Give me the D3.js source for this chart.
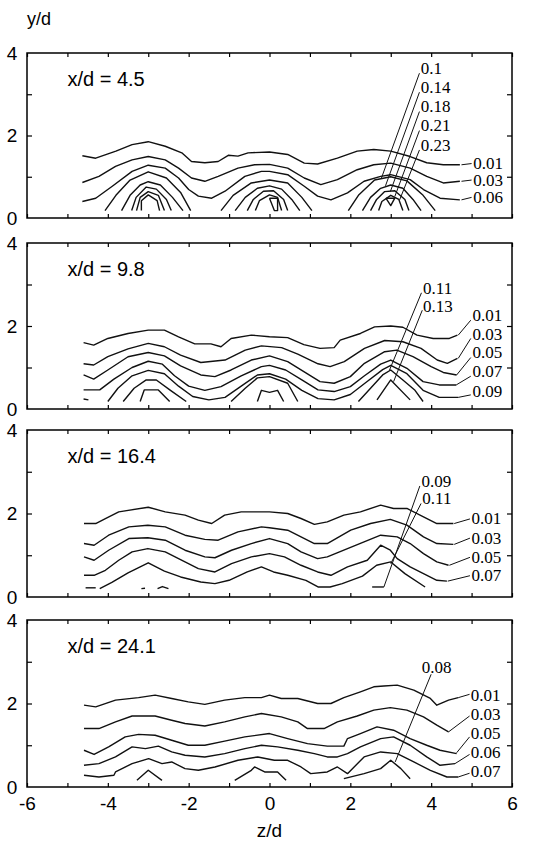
<!DOCTYPE html>
<html>
<head>
<meta charset="utf-8">
<script src="https://cdn.jsdelivr.net/npm/d3@7"></script>
<style>
  body { margin: 0; background: #fff; }
  svg text { fill: #000; }
</style>
</head>
<body>
<svg id="chart" width="534" height="842"></svg>
<script>
// panel titles and axis ticks
const stations = ['x/d = 4.5', 'x/d = 9.8', 'x/d = 16.4', 'x/d = 24.1']
const zTicks = [-6, -4, -2, 0, 2, 4, 6]
const yLabels = [0, 2, 4]

// contour lines, one array of [z/d, y/d] polylines per panel
const p1Contours = [
  // 0.01
  [[-4.63, 1.51], [-4.3, 1.45], [-3.8, 1.62], [-3.4, 1.78], [-3.0, 1.85], [-2.58, 1.74], [-2.17, 1.58], [-1.93, 1.37], [-1.6, 1.34], [-1.27, 1.37], [-1.02, 1.52], [-0.78, 1.5], [-0.53, 1.58], [0, 1.6], [0.45, 1.54], [0.86, 1.33], [1.19, 1.31], [1.68, 1.45], [2.17, 1.62], [2.58, 1.66], [3.0, 1.62], [3.48, 1.49], [3.89, 1.34], [4.3, 1.29], [4.71, 1.29]],
  // 0.03
  [[-4.63, 0.86], [-4.22, 1.01], [-3.81, 1.25], [-3.4, 1.41], [-3.0, 1.49], [-2.58, 1.41], [-2.25, 1.21], [-1.93, 0.97], [-1.6, 0.89], [-1.27, 1.01], [-0.78, 1.21], [-0.37, 1.29], [0, 1.3], [0.45, 1.21], [0.86, 0.97], [1.27, 0.81], [1.68, 0.93], [2.17, 1.17], [2.58, 1.29], [3.0, 1.33], [3.48, 1.21], [3.89, 1.01], [4.3, 0.85], [4.71, 0.89]],
  // 0.06
  [[-4.63, 0.4], [-4.3, 0.48], [-3.89, 0.77], [-3.4, 1.13], [-3.0, 1.28], [-2.58, 1.21], [-2.25, 0.97], [-2.0, 0.69], [-1.76, 0.53], [-1.43, 0.48], [-1.1, 0.65], [-0.61, 1.01], [-0.2, 1.13], [0, 1.13], [0.45, 1.05], [0.86, 0.77], [1.19, 0.53], [1.52, 0.44], [1.93, 0.61], [2.34, 0.89], [2.75, 1.01], [3.0, 1.05], [3.48, 0.93], [3.81, 0.69], [4.22, 0.48], [4.71, 0.44]],
  // 0.1
  [[-4.07, 0.18], [-3.8, 0.55], [-3.45, 0.92], [-3.0, 1.12], [-2.55, 0.97], [-2.2, 0.62], [-1.95, 0.18]],
  [[-1.2, 0.18], [-0.9, 0.55], [-0.45, 0.85], [0, 0.92], [0.45, 0.85], [0.8, 0.5], [1.05, 0.18]],
  [[1.95, 0.18], [2.2, 0.55], [2.6, 0.92], [3.0, 1.0], [3.4, 0.9], [3.8, 0.55], [4.1, 0.18]],
  // 0.14
  [[-3.66, 0.18], [-3.45, 0.55], [-3.2, 0.8], [-3.0, 0.88], [-2.7, 0.8], [-2.4, 0.5], [-2.14, 0.18]],
  [[-0.85, 0.18], [-0.6, 0.5], [-0.3, 0.72], [0, 0.78], [0.3, 0.7], [0.55, 0.45], [0.75, 0.18]],
  [[2.3, 0.18], [2.5, 0.5], [2.75, 0.72], [3.0, 0.8], [3.3, 0.72], [3.55, 0.45], [3.75, 0.18]],
  // 0.18
  [[-3.41, 0.18], [-3.3, 0.5], [-3.05, 0.75], [-2.8, 0.7], [-2.55, 0.45], [-2.43, 0.18]],
  [[-0.55, 0.18], [-0.4, 0.45], [-0.15, 0.65], [0.1, 0.66], [0.35, 0.45], [0.45, 0.18]],
  [[2.5, 0.18], [2.65, 0.45], [2.85, 0.64], [3.1, 0.66], [3.35, 0.45], [3.45, 0.18]],
  // 0.21
  [[-3.29, 0.18], [-3.2, 0.5], [-3.0, 0.64], [-2.75, 0.55], [-2.6, 0.18]],
  [[-0.35, 0.18], [-0.25, 0.42], [0, 0.56], [0.2, 0.5], [0.3, 0.18]],
  [[2.7, 0.18], [2.78, 0.4], [3.0, 0.55], [3.2, 0.45], [3.3, 0.18]],
  // 0.23
  [[-3.17, 0.18], [-3.17, 0.42], [-3.0, 0.56], [-2.78, 0.42], [-2.72, 0.18]],
  [[0.0, 0.48], [0.2, 0.48], [0.2, 0.18], [0.12, 0.18], [0.0, 0.48]],
  [[2.88, 0.48], [3.1, 0.48], [3.0, 0.3], [2.88, 0.48]]
]

const p2Contours = [
  // 0.01
  [[-4.6, 1.6], [-4.35, 1.54], [-4.0, 1.7], [-3.5, 1.82], [-3.0, 1.9], [-2.6, 1.9], [-2.25, 1.74], [-1.85, 1.57], [-1.45, 1.57], [-1.2, 1.5], [-0.95, 1.7], [-0.45, 1.78], [0, 1.74], [0.45, 1.72], [0.85, 1.55], [1.25, 1.46], [1.6, 1.48], [1.75, 1.66], [2.25, 1.82], [2.6, 1.98], [3.0, 2.0], [3.3, 1.97], [3.65, 1.78], [4.05, 1.7], [4.45, 1.7], [4.65, 1.78]],
  // 0.03
  [[-4.6, 1.09], [-4.35, 1.06], [-4.0, 1.26], [-3.5, 1.45], [-3.0, 1.58], [-2.6, 1.5], [-2.2, 1.3], [-1.7, 1.12], [-1.1, 1.18], [-0.6, 1.42], [-0.2, 1.52], [0.3, 1.48], [0.7, 1.32], [1.2, 1.09], [1.5, 1.02], [1.85, 1.14], [2.35, 1.46], [2.85, 1.65], [3.3, 1.62], [3.75, 1.46], [4.15, 1.18], [4.4, 1.1], [4.65, 1.22]],
  // 0.05
  [[-4.6, 0.82], [-4.35, 0.72], [-4.0, 0.94], [-3.5, 1.26], [-3.0, 1.36], [-2.6, 1.28], [-2.2, 1.04], [-1.7, 0.82], [-1.35, 0.78], [-0.95, 0.94], [-0.45, 1.18], [0, 1.28], [0.45, 1.14], [0.85, 0.9], [1.25, 0.66], [1.6, 0.62], [2.0, 0.78], [2.35, 1.1], [2.85, 1.38], [3.15, 1.42], [3.55, 1.26], [4.0, 1.02], [4.3, 0.88], [4.63, 0.82]],
  // 0.07
  [[-4.6, 0.46], [-4.2, 0.46], [-3.85, 0.72], [-3.4, 1.0], [-3.0, 1.15], [-2.65, 1.08], [-2.35, 0.8], [-2.0, 0.55], [-1.6, 0.45], [-1.2, 0.54], [-0.7, 0.8], [-0.2, 1.02], [0, 1.05], [0.4, 0.94], [0.8, 0.7], [1.2, 0.46], [1.6, 0.42], [2.0, 0.54], [2.35, 0.8], [2.75, 1.08], [3.0, 1.18], [3.4, 0.98], [3.8, 0.66], [4.2, 0.58], [4.62, 0.58]],
  // 0.09
  [[-4.6, 0.24], [-4.48, 0.22]],
  [[-4.0, 0.18], [-3.75, 0.5], [-3.4, 0.8], [-3.0, 0.93], [-2.6, 0.85], [-2.25, 0.55], [-1.9, 0.3], [-1.5, 0.22], [-1.1, 0.28], [-0.7, 0.55], [-0.3, 0.82], [0, 0.85], [0.4, 0.72], [0.8, 0.45], [1.2, 0.25], [1.6, 0.22], [2.0, 0.35], [2.4, 0.65], [2.8, 0.95], [3.0, 1.05], [3.4, 0.85], [3.8, 0.45], [4.2, 0.28], [4.67, 0.28]],
  // 0.11
  [[-3.62, 0.18], [-3.35, 0.5], [-3.05, 0.7], [-2.8, 0.7], [-2.45, 0.45], [-2.06, 0.18]],
  [[-0.95, 0.18], [-0.6, 0.5], [-0.3, 0.75], [0, 0.78], [0.45, 0.62], [0.7, 0.18]],
  [[2.2, 0.18], [2.5, 0.5], [2.8, 0.82], [3.0, 0.94], [3.3, 0.7], [3.6, 0.45], [3.8, 0.18]],
  // 0.13
  [[-3.2, 0.18], [-3.1, 0.46], [-2.75, 0.46], [-2.47, 0.18]],
  [[-0.3, 0.18], [-0.2, 0.45], [0, 0.4], [0.2, 0.45], [0.35, 0.18]],
  [[2.66, 0.22], [3.0, 0.7], [3.48, 0.22]]
]

const p3Contours = [
  // 0.01
  [[-4.59, 1.76], [-4.3, 1.76], [-4.06, 1.88], [-3.73, 2.04], [-3.0, 2.15], [-2.58, 2.04], [-2.09, 1.96], [-1.76, 1.84], [-1.43, 1.76], [-1.11, 1.96], [-0.7, 2.04], [0, 2.04], [0.45, 2.0], [0.78, 1.88], [1.11, 1.74], [1.43, 1.8], [1.84, 1.96], [2.25, 2.04], [2.75, 2.2], [3.07, 2.12], [3.4, 2.12], [3.81, 1.92], [4.14, 1.76], [4.55, 1.76]],
  // 0.03
  [[-4.59, 1.28], [-4.34, 1.24], [-3.98, 1.48], [-3.48, 1.68], [-3.01, 1.72], [-2.58, 1.68], [-2.09, 1.48], [-1.6, 1.38], [-1.27, 1.36], [-0.78, 1.56], [-0.2, 1.68], [0, 1.66], [0.45, 1.6], [0.78, 1.44], [1.11, 1.28], [1.43, 1.28], [2.01, 1.6], [2.5, 1.76], [2.99, 1.86], [3.4, 1.72], [3.81, 1.44], [4.14, 1.28], [4.55, 1.26]],
  // 0.05
  [[-4.59, 0.96], [-4.34, 0.88], [-3.98, 1.12], [-3.48, 1.4], [-3.01, 1.42], [-2.58, 1.36], [-2.09, 1.12], [-1.6, 0.96], [-1.35, 0.94], [-0.94, 1.12], [-0.45, 1.28], [0, 1.4], [0.45, 1.28], [0.78, 1.08], [1.19, 0.92], [1.43, 0.96], [1.93, 1.16], [2.34, 1.32], [2.75, 1.48], [3.16, 1.44], [3.48, 1.28], [3.81, 1.04], [4.14, 0.84], [4.43, 0.76]],
  // 0.07
  [[-4.59, 0.52], [-4.34, 0.52], [-4.06, 0.64], [-3.73, 0.88], [-3.4, 1.08], [-3.01, 1.16], [-2.58, 1.08], [-2.25, 0.92], [-1.76, 0.68], [-1.35, 0.6], [-0.94, 0.8], [-0.45, 0.96], [0, 1.04], [0.37, 0.96], [0.78, 0.76], [1.19, 0.6], [1.52, 0.52], [1.93, 0.72], [2.42, 0.88], [2.75, 1.24], [2.99, 1.12], [3.16, 0.92], [3.48, 0.72], [3.81, 0.56], [4.14, 0.4], [4.39, 0.38]],
  // 0.09
  [[-4.55, 0.22], [-4.3, 0.22]],
  [[-4.2, 0.2], [-3.9, 0.35], [-3.5, 0.58], [-3.0, 0.82], [-2.6, 0.62], [-2.2, 0.48], [-1.7, 0.36], [-1.35, 0.32], [-1.0, 0.4], [-0.55, 0.6], [-0.2, 0.72], [0.1, 0.6], [0.45, 0.52], [0.9, 0.4], [1.2, 0.24], [1.5, 0.24], [1.8, 0.32], [2.3, 0.5], [2.65, 0.76], [3.0, 0.84], [3.35, 0.56], [3.85, 0.24]],
  // 0.11
  [[-3.17, 0.2], [-3.08, 0.21]],
  [[-2.77, 0.2], [-2.65, 0.25], [-2.5, 0.2]],
  [[2.54, 0.24], [2.83, 0.24]]
]

const p4Contours = [
  // 0.01
  [[-4.59, 1.96], [-4.3, 1.92], [-3.81, 2.08], [-3.24, 2.14], [-2.83, 2.2], [-2.42, 2.12], [-2.01, 2.04], [-1.6, 1.98], [-1.11, 2.08], [-0.61, 2.14], [-0.2, 2.14], [0, 2.2], [0.29, 2.12], [0.7, 2.12], [1.19, 2.0], [1.52, 2.0], [1.84, 2.14], [2.25, 2.28], [2.58, 2.4], [2.83, 2.42], [3.16, 2.44], [3.57, 2.32], [3.98, 2.12], [4.14, 1.96], [4.43, 2.08], [4.67, 2.14]],
  // 0.03
  [[-4.59, 1.4], [-4.22, 1.4], [-3.81, 1.56], [-3.4, 1.7], [-2.83, 1.7], [-2.42, 1.6], [-2.09, 1.52], [-1.6, 1.46], [-1.11, 1.56], [-0.61, 1.68], [-0.2, 1.76], [0.29, 1.68], [0.7, 1.56], [0.94, 1.4], [1.35, 1.4], [1.68, 1.56], [2.17, 1.7], [2.58, 1.84], [2.99, 1.9], [3.4, 1.84], [3.81, 1.68], [4.14, 1.48], [4.43, 1.32]],
  // 0.05
  [[-4.59, 0.88], [-4.34, 0.78], [-3.98, 0.96], [-3.57, 1.2], [-3.24, 1.26], [-2.83, 1.24], [-2.42, 1.12], [-2.01, 1.0], [-1.6, 1.0], [-1.11, 1.1], [-0.61, 1.2], [0, 1.28], [0.45, 1.16], [0.94, 1.04], [1.43, 0.98], [1.84, 0.98], [1.93, 1.16], [2.25, 1.28], [2.66, 1.44], [3.07, 1.36], [3.48, 1.16], [3.89, 1.0], [4.22, 0.88], [4.63, 0.8]],
  // 0.06
  [[-4.59, 0.52], [-4.22, 0.56], [-3.81, 0.72], [-3.4, 0.96], [-3.07, 0.92], [-2.75, 0.98], [-2.42, 0.84], [-2.09, 0.76], [-1.6, 0.72], [-1.11, 0.8], [-0.61, 0.92], [-0.2, 1.0], [0.2, 0.96], [0.7, 0.88], [1.11, 0.8], [1.43, 0.72], [1.68, 0.72], [1.93, 0.8], [2.25, 0.96], [2.75, 1.16], [3.07, 1.2], [3.48, 1.0], [3.89, 0.72], [4.22, 0.52], [4.59, 0.56]],
  // 0.07
  [[-4.59, 0.28], [-4.22, 0.24], [-3.85, 0.28], [-3.81, 0.36], [-3.4, 0.56], [-2.99, 0.68], [-2.66, 0.56], [-2.42, 0.6], [-2.09, 0.44], [-1.76, 0.4], [-1.35, 0.48], [-0.78, 0.64], [-0.29, 0.72], [0.12, 0.64], [0.45, 0.64], [0.78, 0.48], [1.02, 0.32], [1.43, 0.36], [1.68, 0.48], [1.93, 0.32], [2.34, 0.72], [2.75, 0.84], [3.16, 0.8], [3.57, 0.6], [3.98, 0.4], [4.39, 0.24], [4.67, 0.24]],
  // 0.08
  [[-3.28, 0.16], [-3.0, 0.4], [-2.66, 0.16]],
  [[-0.86, 0.16], [-0.45, 0.4], [-0.37, 0.48], [-0.12, 0.36], [0.2, 0.36], [0.41, 0.16]],
  [[1.84, 0.2], [2.34, 0.32], [2.75, 0.44], [3.0, 0.64], [3.25, 0.44], [3.48, 0.2]]
]

// contour labels: text at [z, y] (baseline), leader from -> to
const p1Labels = [
  { text: '0.1', at: [3.74, 3.49], from: [3.71, 3.51], to: [2.77, 0.97] },
  { text: '0.14', at: [3.74, 3.03], from: [3.71, 3.05], to: [2.87, 0.78] },
  { text: '0.18', at: [3.74, 2.56], from: [3.71, 2.58], to: [2.99, 0.64] },
  { text: '0.21', at: [3.74, 2.1], from: [3.71, 2.12], to: [3.1, 0.52] },
  { text: '0.23', at: [3.74, 1.63], from: [3.71, 1.65], to: [3.22, 0.44] },
  { text: '0.01', at: [5.04, 1.2], from: [4.75, 1.29], to: [5.0, 1.32] },
  { text: '0.03', at: [5.04, 0.78], from: [4.75, 0.89], to: [5.0, 0.92] },
  { text: '0.06', at: [5.04, 0.36], from: [4.75, 0.44], to: [5.0, 0.5] }
]
const p2Labels = [
  { text: '0.11', at: [3.8, 2.76], from: [3.76, 2.8], to: [2.97, 0.94] },
  { text: '0.13', at: [3.8, 2.34], from: [3.78, 2.38], to: [3.07, 0.66] },
  { text: '0.01', at: [5.02, 2.12], from: [4.67, 1.78], to: [4.98, 2.14] },
  { text: '0.03', at: [5.02, 1.67], from: [4.67, 1.22], to: [4.98, 1.7] },
  { text: '0.05', at: [5.02, 1.22], from: [4.63, 0.82], to: [4.98, 1.24] },
  { text: '0.07', at: [5.02, 0.77], from: [4.62, 0.58], to: [4.98, 0.79] },
  { text: '0.09', at: [5.02, 0.3], from: [4.67, 0.28], to: [4.98, 0.34] }
]
const p3Labels = [
  { text: '0.09', at: [3.76, 2.64], from: [3.72, 2.66], to: [2.83, 0.24] },
  { text: '0.11', at: [3.78, 2.22], from: [3.75, 2.24], to: [3.0, 0.8] },
  { text: '0.01', at: [5.0, 1.74], from: [4.57, 1.76], to: [4.96, 1.87] },
  { text: '0.03', at: [5.0, 1.28], from: [4.57, 1.26], to: [4.96, 1.41] },
  { text: '0.05', at: [5.0, 0.82], from: [4.45, 0.76], to: [4.96, 0.95] },
  { text: '0.07', at: [5.0, 0.38], from: [4.41, 0.38], to: [4.96, 0.51] }
]
const p4Labels = [
  { text: '0.08', at: [3.77, 2.74], from: [4.0, 2.7], to: [3.11, 0.6] },
  { text: '0.01', at: [4.98, 2.06], from: [4.67, 2.14], to: [4.95, 2.22] },
  { text: '0.03', at: [4.98, 1.6], from: [4.43, 1.32], to: [4.95, 1.7] },
  { text: '0.05', at: [4.98, 1.14], from: [4.63, 0.82], to: [4.95, 1.2] },
  { text: '0.06', at: [4.98, 0.7], from: [4.59, 0.56], to: [4.95, 0.78] },
  { text: '0.07', at: [4.98, 0.24], from: [4.67, 0.24], to: [4.95, 0.33] }
]

const contours = [p1Contours, p2Contours, p3Contours, p4Contours]
const labels = [p1Labels, p2Labels, p3Labels, p4Labels]

// layout
const panelBox = [[53, 218], [243, 409], [430, 597], [620, 787]]
const sans = 'Liberation Sans, Arial, Helvetica, sans-serif'
const serif = 'Liberation Serif, Times New Roman, serif'

const svg = d3.select('#chart')
const x = d3.scaleLinear().domain([-6, 6]).range([27, 512])

svg.append('text')
  .attr('x', 27)
  .attr('y', 25)
  .style('font-family', sans)
  .style('font-size', '18px')
  .text('y/d')

panelBox.forEach(([top, bottom], i) => {
  let y = d3.scaleLinear().domain([0, 4]).range([bottom, top])
  let g = svg.append('g')

  let line = d3.line()
    .x(d => x(d[0]))
    .y(d => y(d[1]))

  g.selectAll('path.contour').data(contours[i])
    .enter()
    .append('path')
    .attr('class', 'contour')
    .attr('d', line)
    .attr('fill', 'none')
    .attr('stroke', '#111')
    .attr('stroke-width', 1.4)
    .attr('stroke-linejoin', 'round')

  // inward ticks on all four sides
  let tickAxes = [
    [d3.axisBottom(x).ticks(12).tickSize(-4), `translate(0,${y(0)})`],
    [d3.axisTop(x).ticks(12).tickSize(-4), `translate(0,${y(4)})`],
    [d3.axisLeft(y).tickValues([1, 2, 3]).tickSize(-5), `translate(${x(-6)},0)`],
    [d3.axisRight(y).tickValues([1, 2, 3]).tickSize(-5), `translate(${x(6)},0)`]
  ]
  tickAxes.forEach(([axis, tr]) => {
    let a = g.append('g')
      .attr('transform', tr)
      .call(axis.tickFormat('').tickSizeOuter(0))
    a.select('.domain').remove()
    a.selectAll('line').attr('stroke', '#000').attr('stroke-width', 1.2)
  })

  g.append('rect')
    .attr('x', x(-6))
    .attr('y', y(4))
    .attr('width', x(6) - x(-6))
    .attr('height', y(0) - y(4))
    .attr('fill', 'none')
    .attr('stroke', '#000')
    .attr('stroke-width', 1.5)

  g.selectAll('text.ylab').data(yLabels)
    .enter()
    .append('text')
    .attr('class', 'ylab')
    .attr('x', 12)
    .attr('y', d => y(d))
    .attr('dy', '0.36em')
    .attr('text-anchor', 'middle')
    .style('font-family', sans)
    .style('font-size', '19px')
    .text(d => d)

  g.append('text')
    .attr('x', x(-5))
    .attr('y', y(3.2))
    .style('font-family', sans)
    .style('font-size', '20px')
    .text(stations[i])

  g.selectAll('line.leader').data(labels[i])
    .enter()
    .append('line')
    .attr('class', 'leader')
    .attr('x1', d => x(d.from[0]))
    .attr('y1', d => y(d.from[1]))
    .attr('x2', d => x(d.to[0]))
    .attr('y2', d => y(d.to[1]))
    .attr('stroke', '#111')
    .attr('stroke-width', 1)

  g.selectAll('text.clab').data(labels[i])
    .enter()
    .append('text')
    .attr('class', 'clab')
    .attr('x', d => x(d.at[0]))
    .attr('y', d => y(d.at[1]))
    .style('font-family', serif)
    .style('font-size', '17px')
    .text(d => d.text)

  if (i === panelBox.length - 1) {
    let ax = g.append('g')
      .attr('transform', `translate(0,${y(0)})`)
      .call(d3.axisBottom(x).tickValues(zTicks).tickSize(0).tickPadding(10).tickFormat(d => String(d)))
    ax.select('.domain').remove()
    ax.selectAll('text')
      .style('font-family', sans)
      .style('font-size', '19px')
      .attr('fill', '#000')

    g.append('text')
      .attr('x', x(0))
      .attr('y', bottom + 50)
      .attr('text-anchor', 'middle')
      .style('font-family', sans)
      .style('font-size', '19px')
      .text('z/d')
  }
})
</script>
</body>
</html>
